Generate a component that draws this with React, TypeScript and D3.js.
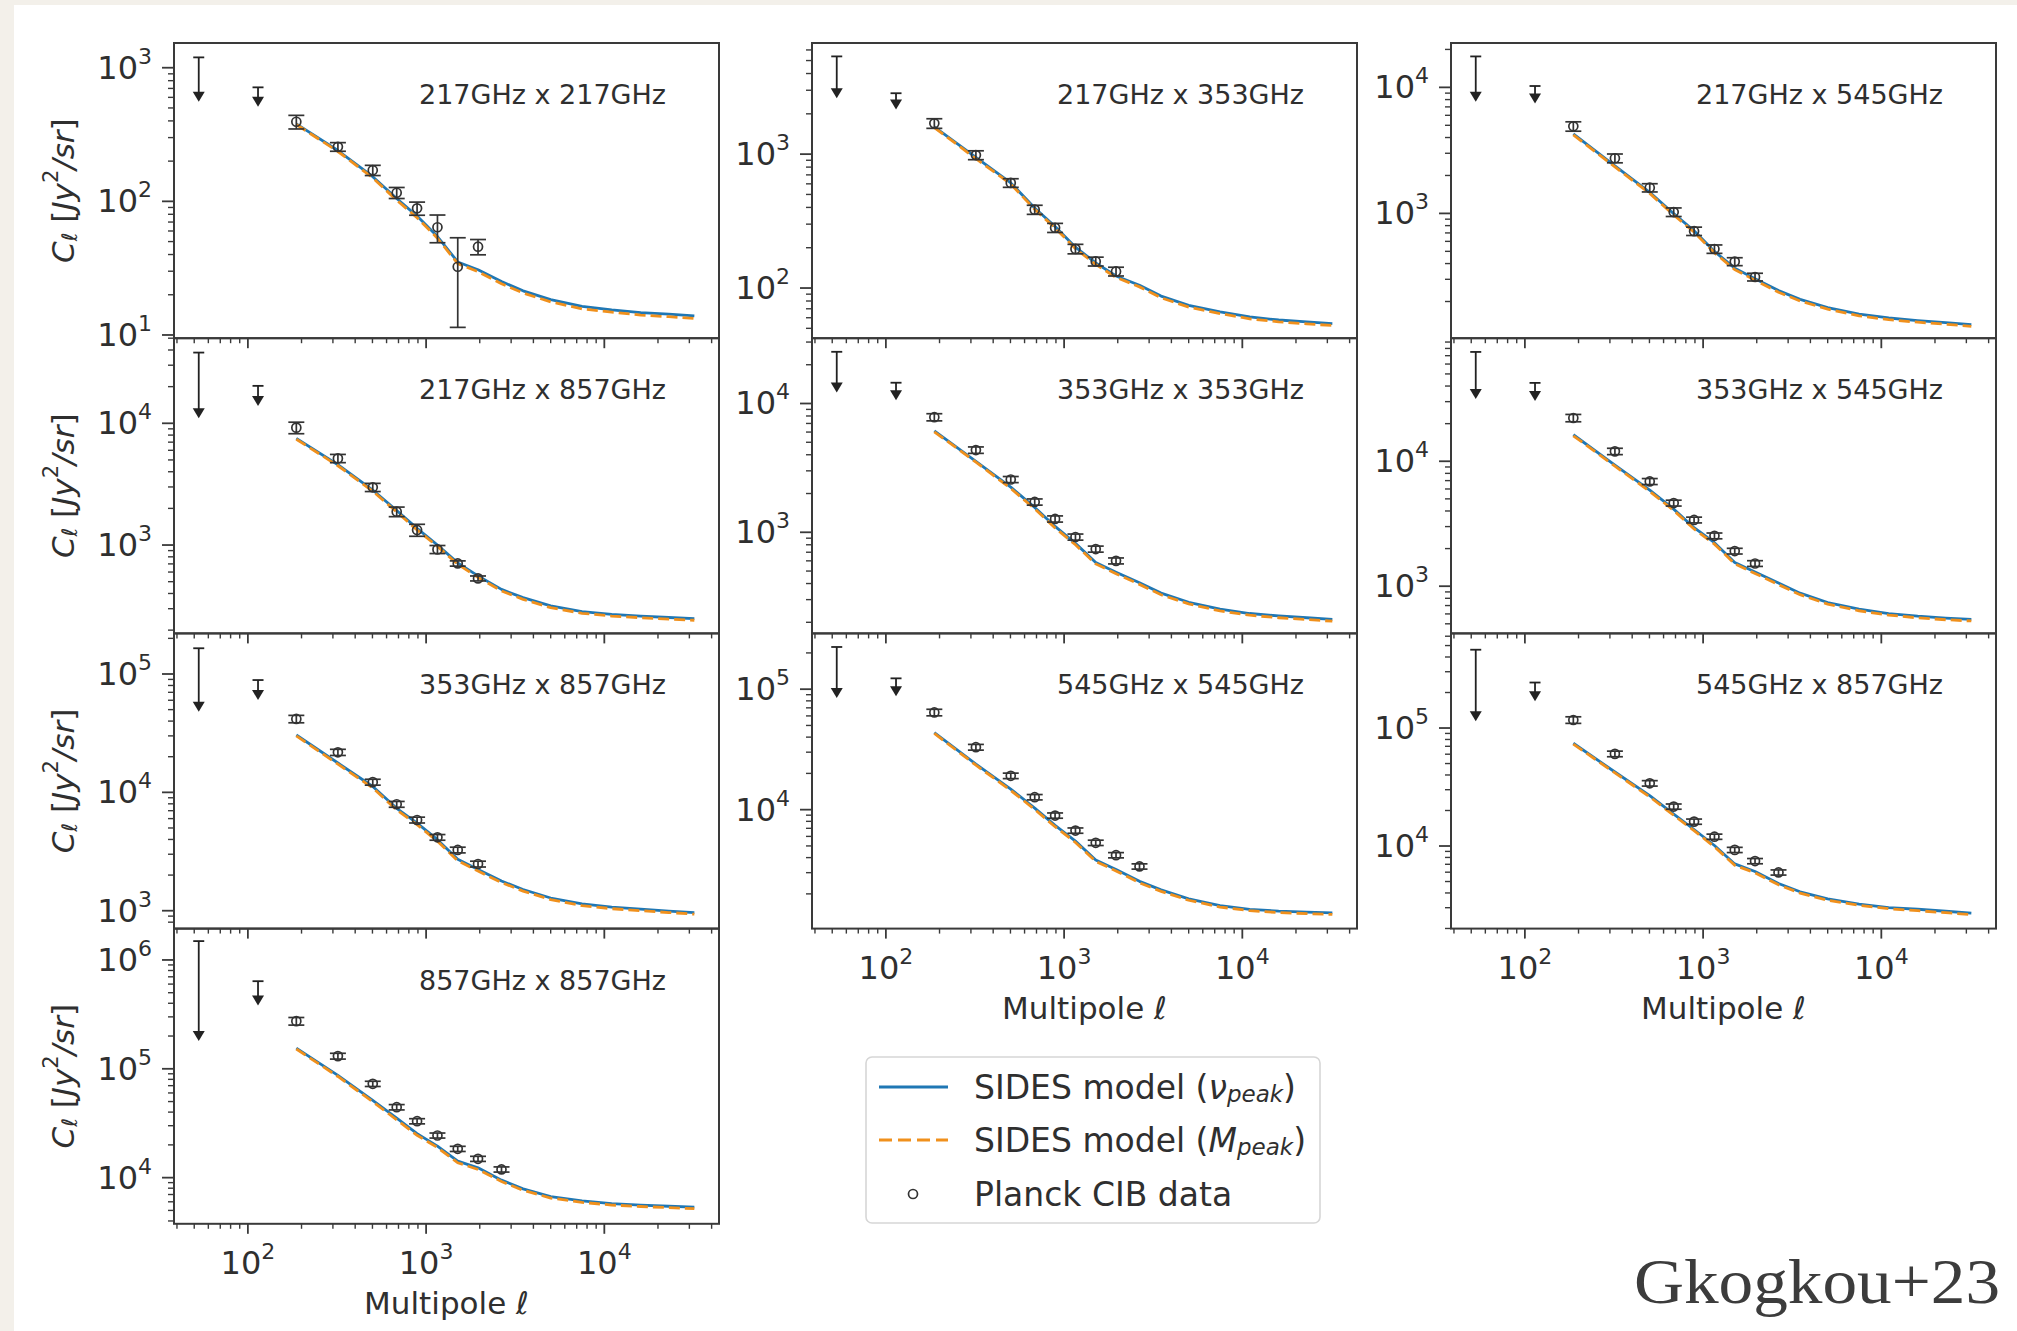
import React, { useEffect } from 'react';
import * as d3 from 'd3';

// ---------------- data ----------------
const ELL_UL = [53, 114];
const ELL_PTS = [187, 320, 502, 684, 890, 1158, 1505, 1956, 2649];
const ELL_MODEL = [187, 320, 502, 684, 890, 1158, 1505, 1956, 2649, 3500, 5000, 7500, 11000, 16000, 23000, 32000];
const XLIM = [38.5, 44000];
const X_MAJOR = [100, 1000, 10000];
const X_MAJOR_LABELS = ['2', '3', '4'];

// 217 x 217
const UL_217x217 = [1195, 713];
const ULEND_217x217 = [557, 511];
const CL_217x217 = [394, 256, 171, 116, 88.7, 64, 32.4, 45.8];
const ERR_217x217 = [46, 19, 15, 11, 10, 15, 21, 6];
const VPEAK_217x217 = [380, 240, 153, 105, 77.6, 54.5, 35.2, 30.8, 25.1, 21.4, 18.4, 16.4, 15.4, 14.7, 14.3, 13.9];
const MPEAK_217x217 = [376, 236, 150, 102, 75.5, 53, 34.2, 29.8, 24.2, 20.6, 17.7, 15.7, 14.8, 14.1, 13.7, 13.3];
const YLIM_217x217 = [9.46, 1531];

// 217 x 353
const UL_217x353 = [5370, 2850];
const ULEND_217x353 = [2615, 2150];
const CL_217x353 = [1698, 984, 610, 385, 282, 196, 158, 133];
const ERR_217x353 = [140, 75, 45, 30, 22, 16, 12, 10];
const VPEAK_217x353 = [1600, 944, 610, 396, 288, 202, 154, 123, 105, 87.1, 74.3, 66.5, 60.8, 57.7, 55.8, 54.3];
const MPEAK_217x353 = [1580, 925, 598, 387, 281, 197, 150, 120, 102, 84.5, 72, 64.4, 58.9, 55.9, 54, 52.5];
const YLIM_217x353 = [42.2, 6761];

// 217 x 545
const UL_217x545 = [17600, 10250];
const ULEND_217x545 = [7680, 7450];
const CL_217x545 = [4910, 2740, 1600, 1025, 723, 522, 415, 313];
const ERR_217x545 = [420, 220, 120, 80, 55, 40, 30, 22];
const VPEAK_217x545 = [4270, 2380, 1470, 995, 728, 499, 368, 303, 244, 208, 179, 159, 148, 141, 136, 131];
const MPEAK_217x545 = [4200, 2340, 1440, 972, 710, 487, 358, 295, 237, 202, 174, 154, 143.5, 137, 132, 127];
const YLIM_217x545 = [102.3, 22490];

// 217 x 857
const UL_217x857 = [38100, 20300];
const ULEND_217x857 = [11000, 13900];
const CL_217x857 = [9210, 5150, 2980, 1880, 1330, 921, 706, 532];
const ERR_217x857 = [1000, 400, 230, 170, 150, 70, 35, 25];
const VPEAK_217x857 = [7520, 4570, 2830, 1920, 1370, 1000, 714, 558, 432, 370, 316, 284, 269, 261, 254, 249];
const MPEAK_217x857 = [7400, 4480, 2770, 1870, 1330, 975, 695, 542, 420, 358, 306, 275, 261, 253, 246, 241];
const YLIM_217x857 = [188, 50000];

// 353 x 353
const UL_353x353 = [25200, 14500];
const ULEND_353x353 = [12200, 10600];
const CL_353x353 = [7830, 4350, 2570, 1720, 1270, 919, 741, 600];
const ERR_353x353 = [500, 250, 140, 95, 70, 50, 40, 32];
const VPEAK_353x353 = [6120, 3560, 2240, 1560, 1110, 820, 583, 490, 405, 337, 286, 253, 234, 224, 217, 211];
const MPEAK_353x353 = [6030, 3500, 2190, 1520, 1080, 800, 568, 477, 394, 327, 278, 245, 227, 217, 210, 204];
const YLIM_353x353 = [164, 32140];

// 353 x 545
const UL_353x545 = [75000, 42400];
const ULEND_353x545 = [31500, 30300];
const CL_353x545 = [22200, 12000, 6890, 4630, 3390, 2530, 1910, 1520];
const ERR_353x545 = [1500, 700, 380, 250, 180, 135, 100, 80];
const VPEAK_353x545 = [16300, 9330, 5870, 4140, 2940, 2230, 1550, 1300, 1060, 879, 740, 655, 604, 575, 555, 543];
const MPEAK_353x545 = [16000, 9150, 5740, 4040, 2870, 2170, 1510, 1265, 1030, 855, 720, 636, 587, 558, 539, 527];
const YLIM_353x545 = [419, 96600];

// 353 x 857
const UL_353x857 = [165000, 88900];
const ULEND_353x857 = [48000, 60300];
const CL_353x857 = [41700, 21800, 12200, 7930, 5840, 4170, 3260, 2480];
const ERR_353x857 = [3000, 1300, 700, 450, 330, 230, 180, 140];
const VPEAK_353x857 = [30500, 17700, 11200, 7330, 5500, 3980, 2720, 2230, 1780, 1510, 1280, 1140, 1070, 1030, 993, 962];
const MPEAK_353x857 = [30000, 17300, 10900, 7100, 5330, 3860, 2640, 2160, 1730, 1465, 1240, 1105, 1040, 1000, 965, 935];
const YLIM_353x857 = [706, 220300];

// 545 x 545
const UL_545x545 = [224000, 123000];
const ULEND_545x545 = [84500, 87500];
const CL_545x545 = [64100, 33000, 19100, 12700, 8940, 6710, 5310, 4190, 3380];
const ERR_545x545 = [4000, 1800, 1000, 650, 450, 340, 270, 210, 170];
const VPEAK_545x545 = [43600, 23900, 14800, 10300, 7410, 5480, 3820, 3190, 2540, 2160, 1820, 1600, 1490, 1440, 1410, 1390];
const MPEAK_545x545 = [43000, 23400, 14450, 10050, 7220, 5340, 3720, 3100, 2470, 2100, 1770, 1555, 1450, 1400, 1370, 1350];
const YLIM_545x545 = [1030, 290400];

// 545 x 857
const UL_545x857 = [461000, 243000];
const ULEND_545x857 = [114000, 169000];
const CL_545x857 = [117000, 60400, 34000, 21600, 16100, 12000, 9270, 7450, 5970];
const ERR_545x857 = [7500, 3300, 1800, 1100, 820, 610, 470, 380, 300];
const VPEAK_545x857 = [74300, 42400, 26700, 18600, 13800, 10100, 7050, 6080, 4810, 4090, 3560, 3220, 3010, 2910, 2800, 2700];
const MPEAK_545x857 = [73100, 41600, 26100, 18200, 13500, 9850, 6870, 5930, 4690, 3990, 3470, 3140, 2940, 2830, 2720, 2620];
const YLIM_545x857 = [1995, 633900];

// 857 x 857
const UL_857x857 = [1490000, 638000];
const ULEND_857x857 = [179600, 382000];
const CL_857x857 = [274000, 130800, 72800, 44400, 33000, 24400, 18400, 14900, 11900];
const ERR_857x857 = [22000, 8000, 4000, 2500, 1800, 1300, 1000, 800, 650];
const VPEAK_857x857 = [154900, 87100, 51300, 35200, 25400, 19500, 14200, 12300, 9480, 7890, 6700, 6110, 5770, 5600, 5460, 5350];
const MPEAK_857x857 = [152000, 85000, 49800, 34000, 24500, 18900, 13700, 11900, 9200, 7650, 6500, 5930, 5600, 5430, 5300, 5190];
const YLIM_857x857 = [3767, 1941000];

const LEGEND_LABELS = ['SIDES model (', 'SIDES model (', 'Planck CIB data'];

// ---------------- layout ----------------
const W = 2017;
const H = 1331;
const COL_LEFT = [174, 812, 1451];
const PW = 545;
const TOP0 = 43;
const PH = 295.2;
const BLUE = '#1f77b4';
const ORANGE = '#f0901c';
const INK = '#2f2f2f';
const FONT = 'DejaVu Sans, Verdana, sans-serif';
const TICK_FS = 32;
const SUP_FS = 22;

const PANELS = [
  { label: '217GHz x 217GHz', col: 0, row: 0, ylim: YLIM_217x217, ul: UL_217x217, ulEnd: ULEND_217x217, cl: CL_217x217, err: ERR_217x217, v: VPEAK_217x217, m: MPEAK_217x217 },
  { label: '217GHz x 857GHz', col: 0, row: 1, ylim: YLIM_217x857, ul: UL_217x857, ulEnd: ULEND_217x857, cl: CL_217x857, err: ERR_217x857, v: VPEAK_217x857, m: MPEAK_217x857 },
  { label: '353GHz x 857GHz', col: 0, row: 2, ylim: YLIM_353x857, ul: UL_353x857, ulEnd: ULEND_353x857, cl: CL_353x857, err: ERR_353x857, v: VPEAK_353x857, m: MPEAK_353x857 },
  { label: '857GHz x 857GHz', col: 0, row: 3, ylim: YLIM_857x857, ul: UL_857x857, ulEnd: ULEND_857x857, cl: CL_857x857, err: ERR_857x857, v: VPEAK_857x857, m: MPEAK_857x857 },
  { label: '217GHz x 353GHz', col: 1, row: 0, ylim: YLIM_217x353, ul: UL_217x353, ulEnd: ULEND_217x353, cl: CL_217x353, err: ERR_217x353, v: VPEAK_217x353, m: MPEAK_217x353 },
  { label: '353GHz x 353GHz', col: 1, row: 1, ylim: YLIM_353x353, ul: UL_353x353, ulEnd: ULEND_353x353, cl: CL_353x353, err: ERR_353x353, v: VPEAK_353x353, m: MPEAK_353x353 },
  { label: '545GHz x 545GHz', col: 1, row: 2, ylim: YLIM_545x545, ul: UL_545x545, ulEnd: ULEND_545x545, cl: CL_545x545, err: ERR_545x545, v: VPEAK_545x545, m: MPEAK_545x545 },
  { label: '217GHz x 545GHz', col: 2, row: 0, ylim: YLIM_217x545, ul: UL_217x545, ulEnd: ULEND_217x545, cl: CL_217x545, err: ERR_217x545, v: VPEAK_217x545, m: MPEAK_217x545 },
  { label: '353GHz x 545GHz', col: 2, row: 1, ylim: YLIM_353x545, ul: UL_353x545, ulEnd: ULEND_353x545, cl: CL_353x545, err: ERR_353x545, v: VPEAK_353x545, m: MPEAK_353x545 },
  { label: '545GHz x 857GHz', col: 2, row: 2, ylim: YLIM_545x857, ul: UL_545x857, ulEnd: ULEND_545x857, cl: CL_545x857, err: ERR_545x857, v: VPEAK_545x857, m: MPEAK_545x857 },
];
const BOTTOM_ROW = [3, 2, 2];

function logTicks(domain: number[]) {
  const lo = Math.log10(domain[0]);
  const hi = Math.log10(domain[1]);
  const major: number[] = [];
  const minor: number[] = [];
  for (let e = Math.floor(lo) - 1; e <= Math.ceil(hi); e++) {
    const v = Math.pow(10, e);
    if (v >= domain[0] * 0.9999 && v <= domain[1] * 1.0001) major.push(e);
    for (let k = 2; k <= 9; k++) {
      const mv = k * v;
      if (mv >= domain[0] && mv <= domain[1]) minor.push(mv);
    }
  }
  return { major, minor };
}

function Panel({ p }: { p: any }) {
  const left = COL_LEFT[p.col];
  const top = TOP0 + p.row * PH;
  const x = d3.scaleLog().domain(XLIM).range([left, left + PW]);
  const y = d3.scaleLog().domain(p.ylim).range([top + PH, top]);
  const line = d3
    .line<number>()
    .x((_, i) => x(ELL_MODEL[i]))
    .y((d) => y(d))
    .curve(d3.curveLinear);
  const yt = logTicks(p.ylim);
  const xt = logTicks(XLIM);
  const bottom = top + PH;
  const isBottom = BOTTOM_ROW[p.col] === p.row;
  return (
    <g>
      <path d={line(p.v) || ''} fill="none" stroke={BLUE} strokeWidth={2.8} strokeLinejoin="round" />
      <path d={line(p.m) || ''} fill="none" stroke={ORANGE} strokeWidth={2.8} strokeDasharray="11 5" />
      {/* upper limits */}
      {p.ul.map((u: number, i: number) => {
        const cx = x(ELL_UL[i]);
        const y0 = y(u);
        const y1 = y(p.ulEnd[i]);
        return (
          <g key={'ul' + i} stroke="#222" strokeWidth={1.8}>
            <line x1={cx} x2={cx} y1={y0} y2={y1 - 6} />
            <line x1={cx - 5.5} x2={cx + 5.5} y1={y0} y2={y0} />
            <path d={`M${cx - 6},${y1 - 10}L${cx + 6},${y1 - 10}L${cx},${y1}Z`} fill="#222" stroke="none" />
          </g>
        );
      })}
      {/* data with error bars */}
      {p.cl.map((c: number, i: number) => {
        const cx = x(ELL_PTS[i]);
        const e = p.err[i];
        const ya = y(c + e);
        const yb = y(Math.max(c - e, p.ylim[0]));
        return (
          <g key={'pt' + i} stroke="#333" strokeWidth={1.7} fill="none">
            <line x1={cx} x2={cx} y1={ya} y2={yb} />
            <line x1={cx - 8} x2={cx + 8} y1={ya} y2={ya} />
            <line x1={cx - 8} x2={cx + 8} y1={yb} y2={yb} />
            <circle cx={cx} cy={y(c)} r={4.5} />
          </g>
        );
      })}
      {/* annotation */}
      <text x={left + 492} y={top + 61} textAnchor="end" fontSize={27} fill={INK} fontFamily={FONT}>
        {p.label}
      </text>
      {/* frame */}
      <rect x={left} y={top} width={PW} height={PH} fill="none" stroke="#3a3a3a" strokeWidth={2} />
      {/* y ticks */}
      {yt.major.map((e) => (
        <g key={'ym' + e}>
          <line x1={left} x2={left - 12} y1={y(Math.pow(10, e))} y2={y(Math.pow(10, e))} stroke="#3a3a3a" strokeWidth={1.8} />
          <text x={left - 22} y={y(Math.pow(10, e))} textAnchor="end" dominantBaseline="central" fontSize={TICK_FS} fill={INK} fontFamily={FONT}>
            10<tspan dy={-12} fontSize={SUP_FS}>{String(e)}</tspan>
          </text>
        </g>
      ))}
      {yt.minor.map((v, i) => (
        <line key={'yn' + i} x1={left} x2={left - 6} y1={y(v)} y2={y(v)} stroke="#3a3a3a" strokeWidth={1.4} />
      ))}
      {/* x ticks */}
      {X_MAJOR.map((v) => (
        <line key={'xm' + v} x1={x(v)} x2={x(v)} y1={bottom} y2={bottom + 10} stroke="#3a3a3a" strokeWidth={1.8} />
      ))}
      {xt.minor.map((v, i) => (
        <line key={'xn' + i} x1={x(v)} x2={x(v)} y1={bottom} y2={bottom + 5} stroke="#3a3a3a" strokeWidth={1.4} />
      ))}
      {isBottom &&
        X_MAJOR.map((v, i) => (
          <text key={'xl' + v} x={x(v)} y={bottom + 39} textAnchor="middle" dominantBaseline="central" fontSize={TICK_FS} fill={INK} fontFamily={FONT}>
            10<tspan dy={-12} fontSize={SUP_FS}>{X_MAJOR_LABELS[i]}</tspan>
          </text>
        ))}
      {isBottom && (
        <text x={left + PW / 2} y={bottom + 79} textAnchor="middle" dominantBaseline="central" fontSize={31} fill={INK} fontFamily={FONT}>
          Multipole <tspan fontStyle="italic">ℓ</tspan>
        </text>
      )}
      {p.col === 0 && (
        <text
          transform={`translate(63, ${top + PH / 2}) rotate(-90)`}
          textAnchor="middle"
          dominantBaseline="central"
          fontSize={31}
          fill={INK}
          fontFamily={FONT}
        >
          <tspan fontStyle="italic">C</tspan>
          <tspan fontStyle="italic" fontSize={21} dy={7}>ℓ</tspan>
          <tspan dy={-7}> [</tspan>
          <tspan fontStyle="italic">Jy</tspan>
          <tspan fontSize={21} dy={-12}>2</tspan>
          <tspan fontStyle="italic" dy={12}>/sr</tspan>
          <tspan>]</tspan>
        </text>
      )}
    </g>
  );
}

function Legend() {
  const lx = 866;
  const ly = 1057;
  const rows = [1087, 1140, 1194];
  return (
    <g fontFamily={FONT} fontSize={33} fill={INK}>
      <rect x={lx} y={ly} width={454} height={166} rx={6} fill="#fff" stroke="#d6d6d6" strokeWidth={1.6} />
      <line x1={879} x2={948} y1={rows[0]} y2={rows[0]} stroke={BLUE} strokeWidth={2.8} />
      <line x1={879} x2={948} y1={rows[1]} y2={rows[1]} stroke={ORANGE} strokeWidth={2.8} strokeDasharray="13 6" />
      <circle cx={913} cy={rows[2]} r={4.5} fill="none" stroke="#333" strokeWidth={1.7} />
      <text x={974} y={rows[0]} dominantBaseline="central">
        {LEGEND_LABELS[0]}
        <tspan fontStyle="italic">ν</tspan>
        <tspan fontStyle="italic" fontSize={23} dy={7}>peak</tspan>
        <tspan dy={-7}>)</tspan>
      </text>
      <text x={974} y={rows[1]} dominantBaseline="central">
        {LEGEND_LABELS[1]}
        <tspan fontStyle="italic">M</tspan>
        <tspan fontStyle="italic" fontSize={23} dy={7}>peak</tspan>
        <tspan dy={-7}>)</tspan>
      </text>
      <text x={974} y={rows[2]} dominantBaseline="central">
        {LEGEND_LABELS[2]}
      </text>
    </g>
  );
}

export default function App() {
  useEffect(() => {
    document.body.style.margin = '0';
    document.body.style.overflow = 'hidden';
  }, []);
  return (
    <div style={{ position: 'absolute', left: 0, top: 0 }}>
      <svg width={W} height={H} viewBox={`0 0 ${W} ${H}`} style={{ display: 'block' }}>
        <rect x={0} y={0} width={W} height={H} fill="#f3f0ea" />
        <rect x={14} y={5} width={W - 14} height={H - 5} fill="#ffffff" />
        {PANELS.map((p, i) => (
          <Panel key={i} p={p} />
        ))}
        <Legend />
        <text x={2000} y={1303} textAnchor="end" fontFamily="Liberation Serif, serif" fontSize={64} fill="#3c3c3c" textLength={366} lengthAdjust="spacingAndGlyphs">
          Gkogkou+23
        </text>
      </svg>
    </div>
  );
}
